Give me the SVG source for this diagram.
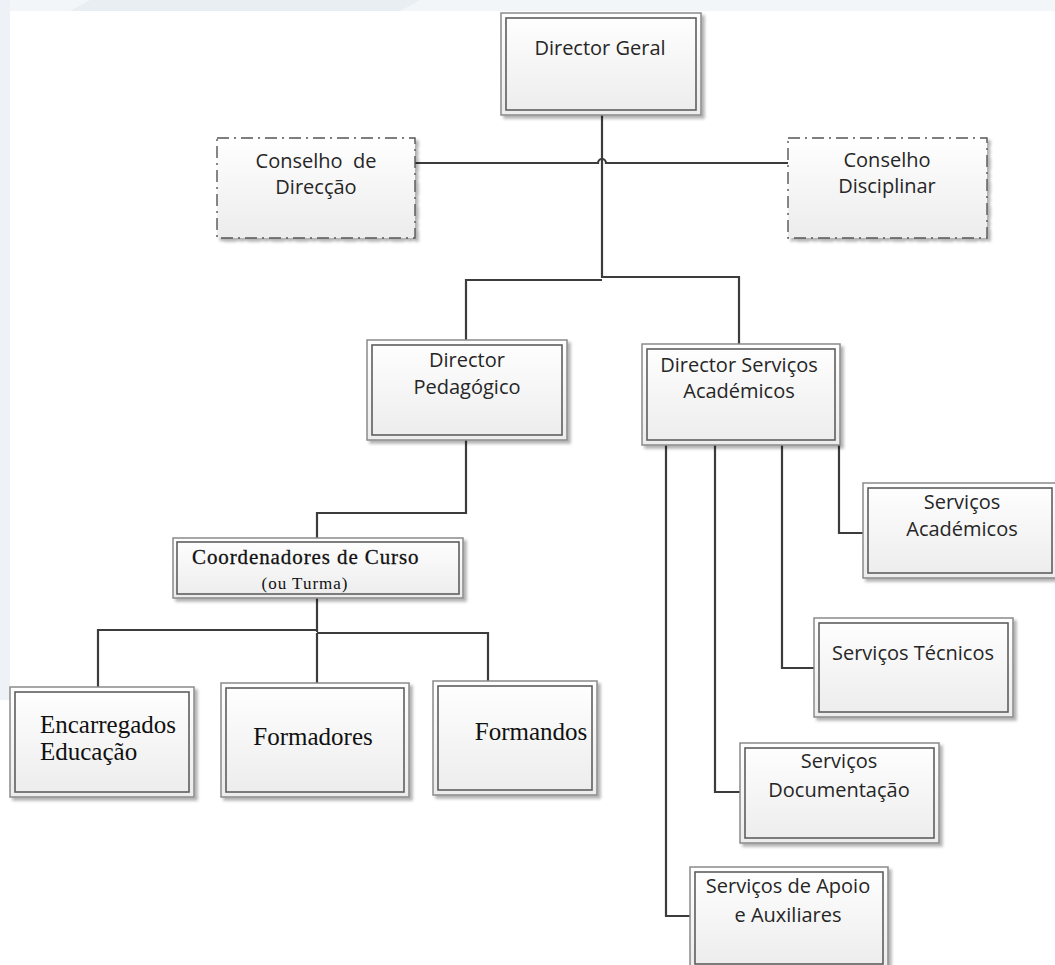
<svg xmlns="http://www.w3.org/2000/svg" width="1055" height="965" viewBox="0 0 1055 965">
<defs>
<linearGradient id="g" x1="0" y1="0" x2="0" y2="1">
<stop offset="0" stop-color="#ffffff"/>
<stop offset="1" stop-color="#ececec"/>
</linearGradient>
<filter id="sh" x="-10%" y="-10%" width="130%" height="130%">
<feDropShadow dx="3" dy="3" stdDeviation="1.5" flood-color="#000" flood-opacity="0.3"/>
</filter>
</defs>
<style>
.outer{fill:url(#g);stroke:#8a8a8a;stroke-width:1.5;filter:url(#sh)}
.inner{fill:none;stroke:#5e5e5e;stroke-width:1.6}
.dash{fill:url(#g);stroke:#555;stroke-width:1.4;stroke-dasharray:12 5 2 5;filter:url(#sh)}
.s{font-family:"Open Sans","DejaVu Sans",sans-serif;font-size:20px;fill:#262626;text-anchor:middle}
.r{font-family:"Liberation Serif","Times New Roman",serif;fill:#111}
.c{fill:none;stroke:#3c3c3c;stroke-width:2.2}
</style>
<rect width="1055" height="965" fill="#fff"/>
<g id="background">
<rect x="0" y="0" width="1055" height="11" fill="#f3f6f9"/>
<polygon points="90,0 420,0 400,11 70,11" fill="#e9eef3"/>
<rect x="0" y="0" width="10" height="700" fill="#eef2f6"/>
</g>
<g id="connectors">
<path class="c" d="M602,115 V278"/>
<path class="c" d="M415,163 H598 A4,4 0 0 1 606,163 H788"/>
<path class="c" d="M466,340 V280 H602 M602,277 H739 V344"/>
<path class="c" d="M466,440 V513 H317 V538"/>
<path class="c" d="M317,598 V632"/>
<path class="c" d="M98,687 V630 H317 M317,633 H488 V681 M317,633 V683"/>
<path class="c" d="M690,443 H666 V916 H690"/>
<path class="c" d="M715,443 V792 H740"/>
<path class="c" d="M782,443 V668 H814"/>
<path class="c" d="M815,439 H839 V533 H863"/>
</g>
<g id="n-director-geral">
<rect class="outer" x="501" y="13" width="200" height="102"/>
<rect class="inner" x="506" y="18" width="190" height="92"/>
<text class="s" x="600" y="55">Director Geral</text>
</g>
<g id="n-conselho-direccao">
<rect class="dash" x="217" y="138" width="198" height="100"/>
<text class="s" x="316" y="168" xml:space="preserve">Conselho  de</text>
<text class="s" x="316" y="194">Direcção</text>
</g>
<g id="n-conselho-disciplinar">
<rect class="dash" x="788" y="138" width="199" height="100"/>
<text class="s" x="887" y="167">Conselho</text>
<text class="s" x="887" y="193">Disciplinar</text>
</g>
<g id="n-director-pedagogico">
<rect class="outer" x="367" y="340" width="200" height="100"/>
<rect class="inner" x="372" y="345" width="190" height="90"/>
<text class="s" x="467" y="367">Director</text>
<text class="s" x="467" y="394">Pedagógico</text>
</g>
<g id="n-director-servicos">
<rect class="outer" x="642" y="344" width="198" height="101"/>
<rect class="inner" x="647" y="349" width="188" height="91"/>
<text class="s" x="739" y="372">Director Serviços</text>
<text class="s" x="739" y="398">Académicos</text>
</g>
<g id="n-servicos-academicos">
<rect class="outer" x="863" y="483" width="194" height="95"/>
<rect class="inner" x="868" y="488" width="184" height="85"/>
<text class="s" x="962" y="509">Serviços</text>
<text class="s" x="962" y="536">Académicos</text>
</g>
<g id="n-servicos-tecnicos">
<rect class="outer" x="814" y="618" width="199" height="99"/>
<rect class="inner" x="819" y="623" width="189" height="89"/>
<text class="s" x="913" y="660">Serviços Técnicos</text>
</g>
<g id="n-servicos-documentacao">
<rect class="outer" x="740" y="743" width="199" height="100"/>
<rect class="inner" x="745" y="748" width="189" height="90"/>
<text class="s" x="839" y="768">Serviços</text>
<text class="s" x="839" y="797">Documentação</text>
</g>
<g id="n-servicos-apoio">
<rect class="outer" x="690" y="867" width="198" height="102"/>
<rect class="inner" x="695" y="872" width="188" height="92"/>
<text class="s" x="788" y="893">Serviços de Apoio</text>
<text class="s" x="788" y="922">e Auxiliares</text>
</g>
<g id="n-coordenadores">
<rect class="outer" x="173" y="538" width="290" height="60"/>
<rect class="inner" x="177" y="542" width="282" height="52"/>
<text class="r" x="192" y="564" font-size="21" letter-spacing="0.9" stroke="#111" stroke-width="0.3">Coordenadores de Curso</text>
<text class="r" x="305" y="589" font-size="17" letter-spacing="1" text-anchor="middle">(ou Turma)</text>
</g>
<g id="n-encarregados">
<rect class="outer" x="10" y="687" width="184" height="110"/>
<rect class="inner" x="15" y="692" width="174" height="100"/>
<text class="r" x="40" y="733" font-size="25">Encarregados</text>
<text class="r" x="40" y="760" font-size="25">Educação</text>
</g>
<g id="n-formadores">
<rect class="outer" x="221" y="683" width="188" height="114"/>
<rect class="inner" x="226" y="688" width="178" height="104"/>
<text class="r" x="313" y="745" font-size="25" text-anchor="middle">Formadores</text>
</g>
<g id="n-formandos">
<rect class="outer" x="433" y="681" width="164" height="114"/>
<rect class="inner" x="438" y="686" width="154" height="104"/>
<text class="r" x="531" y="740" font-size="25" text-anchor="middle">Formandos</text>
</g>
</svg>
